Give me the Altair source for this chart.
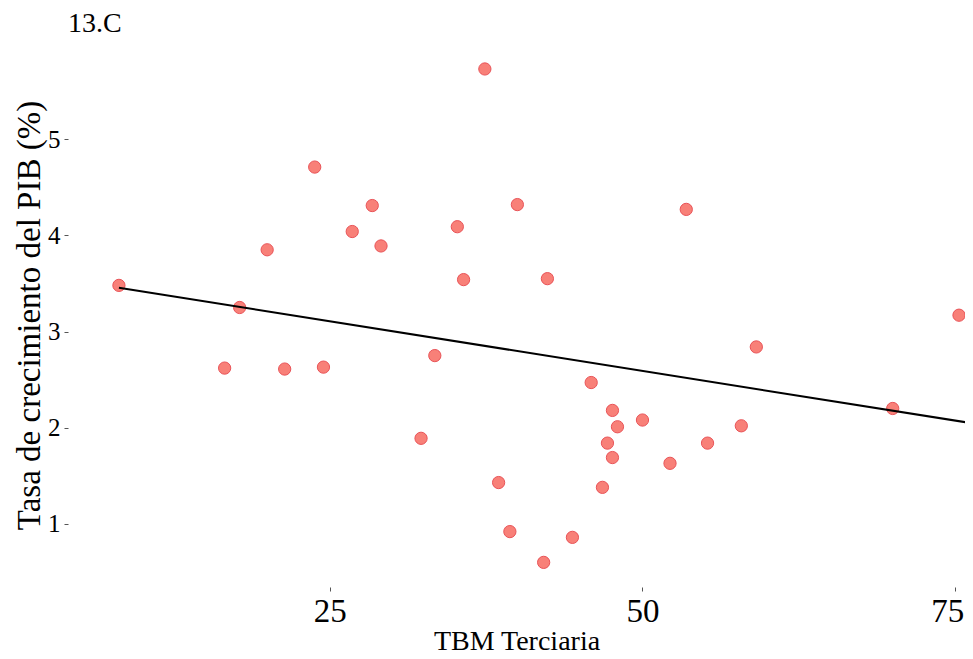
import altair as alt
import pandas as pd

tbm_terciaria = [8.15, 16.6, 17.8, 20.0, 21.4, 23.8, 24.5, 26.8, 28.4, 29.1,
                 32.3, 33.4, 35.2, 35.7, 37.4, 38.5, 39.4, 40.0, 42.1, 42.4,
                 44.4, 45.9, 46.8, 47.2, 47.6, 47.6, 48.0, 50.0, 52.2, 53.5,
                 55.2, 57.9, 59.1, 70.0, 75.3]
crecimiento_pib = [3.48, 2.62, 3.25, 3.85, 2.61, 4.71, 2.63, 4.04, 4.31, 3.89,
                   1.89, 2.75, 4.09, 3.54, 5.73, 1.43, 0.92, 4.32, 0.60, 3.55,
                   0.86, 2.47, 1.38, 1.84, 2.18, 1.69, 2.01, 2.08, 1.63, 4.27,
                   1.84, 2.02, 2.84, 2.20, 3.17]

# fitted line (it runs past the cropped right edge)
ajuste_x = [8.15, 76.42]
ajuste_y = [3.455, 2.045]

x_ticks = [25, 50, 75]
y_ticks = [1, 2, 3, 4, 5]

df = pd.DataFrame({"tbm": tbm_terciaria, "pib": crecimiento_pib})
df_fit = pd.DataFrame({"tbm": ajuste_x, "pib": ajuste_y})

FONT = "Liberation Serif"

x_enc = alt.X("tbm:Q", scale=alt.Scale(domain=[4.08, 75.78], nice=False, zero=False),
              axis=alt.Axis(values=x_ticks, title="TBM Terciaria", labelFontSize=33,
                            titleFontSize=28, labelPadding=4, titlePadding=-1,
                            labelOffset=alt.condition("datum.value == 75",
                                                      alt.value(-8), alt.value(0)),
                            tickSize=4, tickColor="#555555", labelColor="#000000",
                            titleColor="#000000", domain=False, grid=False,
                            labelFont=FONT, titleFont=FONT, titleFontWeight="normal"))
y_enc = alt.Y("pib:Q", scale=alt.Scale(domain=[0.344, 6.0], nice=False, zero=False),
              axis=alt.Axis(values=y_ticks, format="d",
                            title="Tasa de crecimiento del PIB (%)",
                            labelFontSize=25, titleFontSize=33, labelPadding=4,
                            titlePadding=1, tickSize=4, tickColor="#555555",
                            labelColor="#000000", titleColor="#000000", domain=False,
                            grid=False, labelFont=FONT, titleFont=FONT,
                            titleFontWeight="normal"))

points = alt.Chart(df).mark_circle(
    size=150, color="#F8766D", opacity=0.92, stroke="#E8454A", strokeWidth=1
).encode(x=x_enc, y=y_enc)

line = alt.Chart(df_fit).mark_line(
    color="#000000", strokeWidth=2, clip=True
).encode(x=alt.X("tbm:Q"), y=alt.Y("pib:Q"))

chart = alt.layer(points, line).properties(
    width=897, height=544,
    title=alt.TitleParams("13.C", anchor="start", frame="group", fontSize=28,
                          font=FONT, fontWeight="normal", color="#000000",
                          offset=-17, baseline="alphabetic"),
    autosize=alt.AutoSizeParams(type="none"),
    padding={"left": 60, "top": 35, "right": 0, "bottom": 71},
).configure_view(stroke=None)

chart.save("out.html", embed_options={"renderer": "svg", "actions": False})
